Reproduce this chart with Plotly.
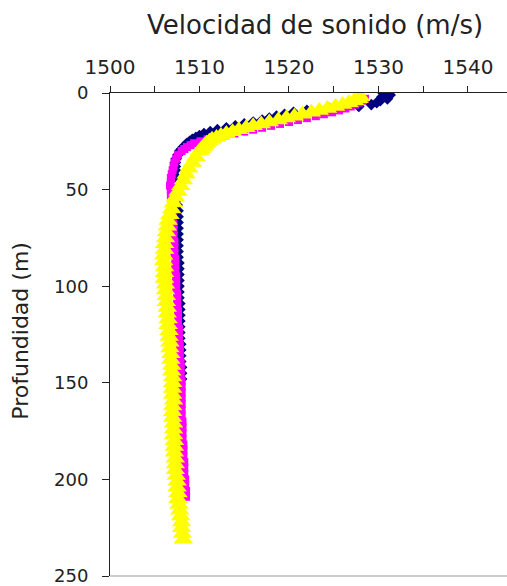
import plotly.graph_objects as go

# Sound-speed profiles (m/s) against depth (m), three casts
navy_depth = [0, 1, 2, 3, 4, 5, 6, 7, 8, 9, 10, 11, 12, 13, 14, 15, 16, 17, 18, 19,
              20, 21, 22, 23, 24, 25, 26, 27, 28, 29, 30, 32, 34, 36, 38,
              40, 43, 46, 49, 52, 55, 58, 61, 64, 67, 70, 73, 76, 79, 82, 85,
              88, 91, 94, 97, 100, 103, 106, 109, 112, 115, 118, 121, 124, 127,
              130, 133, 136, 139, 142, 145, 148]
navy_speed = [1530.5, 1531.3, 1530.4, 1531.0, 1530.2, 1529.8, 1529.2, 1527.8, 1524.5, 1522.0,
              1520.5, 1519.5, 1518.6, 1517.8, 1517.0, 1516.0, 1515.0, 1514.0, 1513.0, 1512.0,
              1511.2, 1510.5, 1510.0, 1509.6, 1509.2, 1508.9, 1508.6, 1508.4, 1508.2, 1508.0,
              1507.8, 1507.6, 1507.4, 1507.3, 1507.3,
              1507.3, 1507.3, 1507.3, 1507.4, 1507.4, 1507.5, 1507.5, 1507.6, 1507.6, 1507.6,
              1507.6, 1507.6, 1507.6, 1507.6, 1507.6, 1507.6,
              1507.7, 1507.7, 1507.7, 1507.7, 1507.7, 1507.7, 1507.7, 1507.8, 1507.8, 1507.8,
              1507.8, 1507.8, 1507.8, 1507.8,
              1507.9, 1507.9, 1507.9, 1507.9, 1508.0, 1508.0, 1508.0]

magenta_depth = [3, 4, 5, 6, 7, 8, 9, 10, 11, 12, 13, 14, 15, 16, 17, 18, 19, 20,
                 21, 22, 23, 24, 25, 26, 27, 28, 29, 30, 32, 34, 36, 38, 40, 42, 44,
                 46, 48, 50, 53, 56, 59, 62, 65, 68, 71, 74, 77, 80, 83, 86, 89, 92,
                 95, 98, 101, 104, 107, 110, 113, 116, 119, 122, 125, 128, 131, 134,
                 137, 140, 143, 146, 149, 152, 155, 158, 161, 164, 167, 170, 173, 176,
                 179, 182, 185, 188, 191, 194, 197, 200, 203, 206, 209]
magenta_speed = [1528.5, 1528.2, 1527.8, 1527.4, 1526.9, 1526.3, 1525.6, 1524.8, 1523.9,
                 1523.0, 1522.0, 1521.0, 1520.0, 1519.0, 1518.0, 1517.0, 1516.0, 1515.0,
                 1513.9, 1512.8, 1511.8, 1510.9, 1510.1, 1509.4, 1509.0, 1508.6, 1508.3,
                 1508.0, 1507.6, 1507.4, 1507.2, 1507.1, 1507.0, 1506.9, 1506.8,
                 1506.8, 1506.7, 1506.8, 1506.8, 1506.9, 1506.9, 1507.0, 1507.0, 1507.1,
                 1507.1, 1507.1, 1507.2, 1507.2, 1507.2, 1507.3, 1507.3, 1507.3,
                 1507.4, 1507.4, 1507.4, 1507.5, 1507.5, 1507.5, 1507.6, 1507.6, 1507.6,
                 1507.7, 1507.7, 1507.7, 1507.8, 1507.8,
                 1507.8, 1507.9, 1507.9, 1507.9, 1508.0, 1508.0, 1508.0, 1508.0, 1508.0,
                 1508.0, 1508.0, 1508.1, 1508.1, 1508.1,
                 1508.1, 1508.2, 1508.2, 1508.2, 1508.3, 1508.3, 1508.3, 1508.4, 1508.4,
                 1508.5, 1508.5]

yellow_depth = [2, 3, 4, 5, 6, 7, 8, 9, 10, 11, 12, 13, 14, 15, 16, 17, 18, 19, 20,
                21, 22, 23, 24, 25, 26, 27, 28, 29, 30, 33, 36, 39,
                42, 45, 48, 51, 54, 57, 60, 63, 66, 69, 72, 75, 78, 81, 84, 87, 90,
                93, 96, 99, 102, 105, 108, 111, 114, 117, 120, 123, 126, 129, 132,
                135, 138, 141, 144, 147, 150, 153, 156, 159, 162, 165, 168, 171, 174,
                177, 180, 183, 186, 189, 192, 195, 198, 201, 204, 207, 210, 213, 216,
                219, 222, 225, 228, 231]
yellow_speed = [1528.0, 1527.8, 1527.3, 1526.7, 1526.0, 1525.2, 1524.3, 1523.4, 1522.5,
                1521.5, 1520.6, 1519.7, 1518.8, 1517.8, 1516.9, 1516.0, 1515.2, 1514.4,
                1513.7, 1513.0, 1512.4, 1511.9, 1511.4, 1511.1, 1510.8, 1510.6, 1510.4,
                1510.2, 1510.0, 1509.6, 1509.2, 1508.8,
                1508.5, 1508.2, 1507.9, 1507.6, 1507.3, 1507.1, 1506.9, 1506.7, 1506.5,
                1506.4, 1506.3, 1506.2, 1506.1, 1506.1, 1506.0, 1506.0, 1506.1,
                1506.1, 1506.1, 1506.2, 1506.2, 1506.3, 1506.3, 1506.4, 1506.4, 1506.5,
                1506.5, 1506.6, 1506.6, 1506.7, 1506.7,
                1506.8, 1506.8, 1506.9, 1506.9, 1507.0, 1507.0, 1507.0, 1507.0, 1507.1,
                1507.0, 1507.0, 1507.0, 1507.1, 1507.1,
                1507.1, 1507.2, 1507.2, 1507.2, 1507.3, 1507.3, 1507.3, 1507.4, 1507.5,
                1507.5, 1507.6, 1507.6, 1507.7, 1507.8,
                1507.9, 1508.0, 1508.0, 1508.1, 1508.2]

x_ticks = [1500, 1510, 1520, 1530, 1540]
x_minor = [1505, 1515, 1525, 1535]
y_ticks = [0, 50, 100, 150, 200, 250]

ink = "#222222"

fig = go.Figure()
fig.add_trace(go.Scatter(x=navy_speed, y=navy_depth, mode="markers",
                         marker=dict(symbol="diamond", size=9, color="#000080", line=dict(width=0))))
fig.add_trace(go.Scatter(x=magenta_speed, y=magenta_depth, mode="markers",
                         marker=dict(symbol="square", size=8, color="#FF00FF", line=dict(width=0))))
fig.add_trace(go.Scatter(x=yellow_speed, y=yellow_depth, mode="markers",
                         marker=dict(symbol="triangle-up", size=17, color="#FFFF00", line=dict(width=0))))

fig.update_layout(
    width=507, height=586,
    margin=dict(l=110, r=0, t=93, b=7),
    paper_bgcolor="white", plot_bgcolor="white",
    showlegend=False,
    xaxis=dict(
        side="top", range=[1500, 1544.36],
        tickvals=x_ticks, ticktext=[str(v) for v in x_ticks],
        ticks="outside", ticklen=6, tickcolor=ink,
        minor=dict(tickvals=x_minor, ticks="outside", ticklen=6, tickcolor=ink),
        showline=True, linecolor=ink, linewidth=1,
        showgrid=False, zeroline=False,
        tickfont=dict(family="DejaVu Sans", size=20, color=ink),
        ticklabelstandoff=4,
    ),
    yaxis=dict(
        range=[250, 0],
        tickvals=y_ticks, ticktext=[str(v) for v in y_ticks],
        ticks="outside", ticklen=7, tickcolor=ink,
        showline=True, linecolor=ink, linewidth=1,
        showgrid=False, zeroline=False,
        tickfont=dict(family="DejaVu Sans", size=18, color=ink),
        ticklabelstandoff=10,
        ticklabeloverflow="allow",
    ),
    shapes=[dict(type="line", xref="paper", yref="paper", x0=0, x1=1, y0=0, y1=0,
                 line=dict(color="#999999", width=1))],
    annotations=[
        dict(text="Velocidad de sonido (m/s)", xref="paper", yref="paper",
             x=0.516, y=1.14, xanchor="center", yanchor="middle", showarrow=False,
             font=dict(family="DejaVu Sans", size=26, color=ink)),
        dict(text="Profundidad (m)", xref="paper", yref="paper",
             x=-0.224, y=0.508, xanchor="center", yanchor="middle", showarrow=False,
             textangle=-90, font=dict(family="DejaVu Sans", size=22, color=ink)),
    ],
)

fig.write_html("out.html")
